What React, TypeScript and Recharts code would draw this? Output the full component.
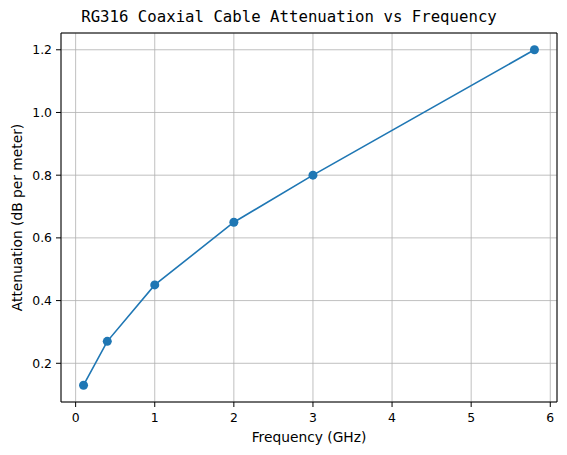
import React from 'react';
import { LineChart, Line, XAxis, YAxis, CartesianGrid, ReferenceLine } from 'recharts';

// values
const frequencies = [0.1, 0.4, 1, 2, 3, 5.8];
const attenuation = [0.13, 0.27, 0.45, 0.65, 0.8, 1.2];

const xTicks = [0, 1, 2, 3, 4, 5, 6];
const yTicks = [0.2, 0.4, 0.6, 0.8, 1.0, 1.2];

// matplotlib style 5% margins
const xDomain: [number, number] = [-0.185, 6.085];
const yDomain: [number, number] = [0.0765, 1.2535];

const data = frequencies.map((f, i) => ({ freq: f, att: attenuation[i] }));

const tickStyle = { fontFamily: 'DejaVu Sans', fontSize: 12.4, fill: '#000' };
const labelStyle = { fontFamily: 'DejaVu Sans', fontSize: 13.8, fill: '#000', textAnchor: 'middle' as const };

const App: React.FC = () => {
  return (
    <div style={{ position: 'absolute', left: 0, top: 0, width: 567, height: 455, background: '#fff' }}>
      <svg width={567} height={30} style={{ position: 'absolute', left: 0, top: 0 }}>
        <text
          x={289}
          y={21.5}
          textAnchor="middle"
          style={{ fontFamily: 'DejaVu Sans Mono', fontSize: 15.7, fill: '#000' }}
        >
          RG316 Coaxial Cable Attenuation vs Frequency
        </text>
      </svg>
      <LineChart width={567} height={455} data={data} margin={{ top: 33, right: 10, bottom: 0, left: 0 }}>
        <CartesianGrid stroke="#b0b0b0" strokeWidth={0.8} />
        <XAxis
          dataKey="freq"
          type="number"
          domain={xDomain}
          ticks={xTicks}
          allowDataOverflow
          height={53}
          tickSize={5}
          tickMargin={6}
          stroke="#000"
          tick={tickStyle}
          tickLine={{ stroke: '#000' }}
          label={{ value: 'Frequency (GHz)', position: 'insideBottom', offset: 13, style: labelStyle }}
        />
        <YAxis
          type="number"
          domain={yDomain}
          ticks={yTicks}
          allowDataOverflow
          width={61}
          tickSize={5}
          tickMargin={4}
          stroke="#000"
          tick={tickStyle}
          tickLine={{ stroke: '#000' }}
          tickFormatter={(v: number) => v.toFixed(1)}
          label={{ value: 'Attenuation (dB per meter)', angle: -90, position: 'insideLeft', offset: 17, style: labelStyle }}
        />
        <ReferenceLine y={yDomain[1]} stroke="#000" strokeWidth={1} ifOverflow="visible" />
        <ReferenceLine x={xDomain[1]} stroke="#000" strokeWidth={1} ifOverflow="visible" />
        <Line
          type="linear"
          dataKey="att"
          stroke="#1f77b4"
          strokeWidth={1.6}
          dot={{ r: 4.5, fill: '#1f77b4', stroke: 'none' }}
          activeDot={false}
          isAnimationActive={false}
        />
      </LineChart>
    </div>
  );
};

export default App;
